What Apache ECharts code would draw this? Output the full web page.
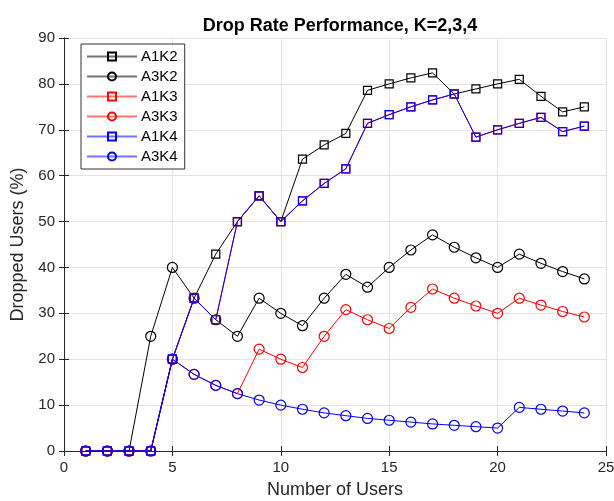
<!DOCTYPE html>
<html>
<head>
<meta charset="utf-8">
<script src="https://cdn.jsdelivr.net/npm/echarts@6/dist/echarts.min.js"></script>
<style>
  html, body { margin: 0; padding: 0; background: #fff; }
  #chart { width: 614px; height: 501px; }
</style>
</head>
<body>
<div id="chart"></div>
<script>
  // number of users (x)
  const users = [1, 2, 3, 4, 5, 6, 7, 8, 9, 10, 11, 12, 13, 14, 15, 16, 17, 18, 19, 20, 21, 22, 23, 24];
  // dropped users (%) per series
  const a1k2 = [0, 0, 0, 0, 20, 33.3, 42.9, 50, 55.6, 50, 63.6, 66.7, 69.2, 78.6, 80, 81.3, 82.4, 77.8, 78.9, 80, 81, 77.3, 73.9, 75];
  const a3k2 = [0, 0, 0, 25, 40, 33.3, 28.6, 25, 33.3, 30, 27.3, 33.3, 38.5, 35.7, 40, 43.8, 47.1, 44.4, 42.1, 40, 42.9, 40.9, 39.1, 37.5];
  const a1k3 = [0, 0, 0, 0, 20, 33.3, 28.6, 50, 55.6, 50, 54.5, 58.3, 61.5, 71.4, 73.3, 75, 76.5, 77.8, 68.4, 70, 71.4, 72.7, 69.6, 70.8];
  const a3k3 = [0, 0, 0, 0, 20, 16.7, 14.3, 12.5, 22.2, 20, 18.2, 25, 30.8, 28.6, 26.7, 31.3, 35.3, 33.3, 31.6, 30, 33.3, 31.8, 30.4, 29.2];
  const a1k4 = [0, 0, 0, 0, 20, 33.3, 28.6, 50, 55.6, 50, 54.5, 58.3, 61.5, 71.4, 73.3, 75, 76.5, 77.8, 68.4, 70, 71.4, 72.7, 69.6, 70.8];
  const a3k4 = [0, 0, 0, 0, 20, 16.7, 14.3, 12.5, 11.1, 10, 9.1, 8.3, 7.7, 7.1, 6.7, 6.3, 5.9, 5.6, 5.3, 5, 9.5, 9.1, 8.7, 8.3];
  const seriesNames = ['A1K2', 'A3K2', 'A1K3', 'A3K3', 'A1K4', 'A3K4'];

  const axisColor = '#262626';
  const font = 'Liberation Sans, Arial, sans-serif';

  function mk(name, values, color, shape) {
    return {
      name: name,
      type: 'line',
      data: users.map((u, i) => [u, values[i]]),
      symbol: shape,
      symbolSize: shape === 'circle' ? 10 : 8,
      lineStyle: { color: color, width: 1 },
      itemStyle: { color: 'rgba(255,255,255,0)', borderColor: color, borderWidth: 1.2 },
      emphasis: { disabled: true }
    };
  }

  const chart = echarts.init(document.getElementById('chart'));
  const option = {
    animation: false,
    backgroundColor: '#fff',
    title: {
      text: 'Drop Rate Performance, K=2,3,4',
      left: 335, top: 12, textAlign: 'center',
      textStyle: { fontFamily: font, fontSize: 18, fontWeight: 'bold', color: '#000' }
    },
    legend: {
      orient: 'vertical',
      left: 81, top: 44,
      padding: [5, 7, 5, 5],
      itemWidth: 50, itemHeight: 10, itemGap: 5,
      backgroundColor: '#fff',
      borderColor: '#333', borderWidth: 1, borderRadius: 0,
      lineStyle: { width: 2, opacity: 0.55 },
      textStyle: { fontFamily: font, fontSize: 15, lineHeight: 15, color: '#000', padding: [0, 0, 0, -1] },
      data: seriesNames
    },
    grid: { left: 64, right: 8, top: 38, bottom: 50, containLabel: false, outerBoundsMode: 'none' },
    xAxis: [{
      type: 'value', min: 0, max: 25, interval: 5,
      name: 'Number of Users', nameLocation: 'middle', nameGap: 30,
      nameTextStyle: { fontFamily: font, fontSize: 18, color: axisColor },
      axisLine: { lineStyle: { color: axisColor } },
      axisTick: { inside: true, length: 5, lineStyle: { color: axisColor } },
      axisLabel: { fontFamily: font, fontSize: 15, color: axisColor, margin: 9 },
      splitLine: { show: true, lineStyle: { color: '#e3e3e3' } }
    }, {
      type: 'value', min: 0, max: 25, interval: 5, position: 'top',
      axisLine: { lineStyle: { color: axisColor } },
      axisTick: { inside: true, length: 5, lineStyle: { color: axisColor } },
      axisLabel: { show: false },
      splitLine: { show: false }
    }],
    yAxis: [{
      type: 'value', min: 0, max: 90, interval: 10,
      name: 'Dropped Users (%)', nameLocation: 'middle', nameGap: 31,
      nameTextStyle: { fontFamily: font, fontSize: 18, color: axisColor },
      axisLine: { show: true, lineStyle: { color: axisColor } },
      axisTick: { show: true, inside: true, length: 5, lineStyle: { color: axisColor } },
      axisLabel: { fontFamily: font, fontSize: 15, color: axisColor, margin: 9 },
      splitLine: { show: true, lineStyle: { color: '#e3e3e3' } }
    }, {
      type: 'value', min: 0, max: 90, interval: 10, position: 'right',
      axisLine: { show: true, lineStyle: { color: axisColor } },
      axisTick: { show: true, inside: true, length: 5, lineStyle: { color: axisColor } },
      axisLabel: { show: false },
      splitLine: { show: false }
    }],
    series: [
      mk('A1K2', a1k2, '#000000', 'rect'),
      mk('A3K2', a3k2, '#000000', 'circle'),
      mk('A1K3', a1k3, '#ff0000', 'rect'),
      mk('A3K3', a3k3, '#ff0000', 'circle'),
      mk('A1K4', a1k4, '#0000ff', 'rect'),
      mk('A3K4', a3k4, '#0000ff', 'circle')
    ]
  };
  chart.setOption(option);
</script>
</body>
</html>
